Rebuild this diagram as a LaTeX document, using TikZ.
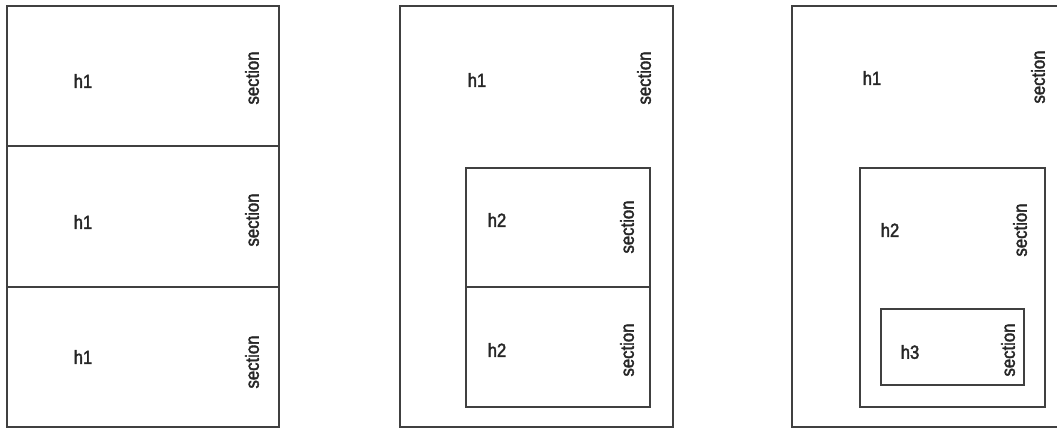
\documentclass[tikz,border=0pt]{standalone}
\usepackage{fontspec}
\setmainfont{Liberation Sans}
\newfontfamily\lblfont{Liberation Sans}[FakeStretch=0.88,FakeBold=2]
\begin{document}
\begin{tikzpicture}[x=1pt,y=-1pt,
  box/.style={draw=black!75,line width=1.6pt},
  lbl/.style={font=\lblfont\fontsize{19}{20}\selectfont,text=black!85,inner sep=0pt},
  sec/.style={lbl,rotate=90}]
\useasboundingbox (0,0) rectangle (1057,428);
\begin{scope}
\clip (0,0) rectangle (1057,428);
% panel 1
\draw[box] (7,6) rectangle (279,427);
\draw[box] (7,146) -- (279,146);
\draw[box] (7,287) -- (279,287);
% panel 2
\draw[box] (400,6) rectangle (673,427);
\draw[box] (466,168) rectangle (650,407);
\draw[box] (466,287) -- (650,287);
% panel 3
\draw[box] (792,6) rectangle (1070,427);
\draw[box] (860,168) rectangle (1045,407);
\draw[box] (881,309) rectangle (1024,385);
\end{scope}
% texts panel 1
\node[lbl] (a1) at (83,81) {h1};
\node[sec] (as1) at (252,78) {section};
\node[lbl] (a2) at (83,222) {h1};
\node[sec] (as2) at (252,220) {section};
\node[lbl] (a3) at (83,357) {h1};
\node[sec] (as3) at (252,362) {section};
% texts panel 2
\node[lbl] (b1) at (477,80) {h1};
\node[sec] (bs1) at (644,78) {section};
\node[lbl] (b2) at (497,220) {h2};
\node[sec] (bs2) at (627,227) {section};
\node[lbl] (b3) at (497,350) {h2};
\node[sec] (bs3) at (627,350) {section};
% texts panel 3
\node[lbl] (c1) at (872,78) {h1};
\node[sec] (cs1) at (1038,77) {section};
\node[lbl] (c2) at (890,230) {h2};
\node[sec] (cs2) at (1020,230) {section};
\node[lbl] (c3) at (910,352) {h3};
\node[sec] (cs3) at (1008,350) {section};
\end{tikzpicture}
\end{document}
